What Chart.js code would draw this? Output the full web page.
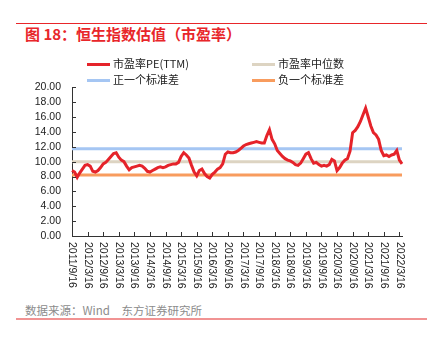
<!DOCTYPE html>
<html>
<head>
<meta charset="utf-8">
<script src="https://cdn.jsdelivr.net/npm/chart.js@4"></script>
<style>
  body { margin: 0; width: 432px; height: 347px; background: #fff; position: relative; overflow: hidden;
         font-family: "Liberation Sans", "Noto Sans CJK SC", sans-serif; }
  .rule { position: absolute; left: 16px; width: 411px; }
  #topRule { top: 23px; height: 1px; background: #e8262a; }
  #bottomRule { top: 318px; height: 2px; background: #f19393; }
  #title { position: absolute; left: 25px; top: 24px; font-size: 15px; font-weight: bold; color: #e8262a;
           font-family: "Noto Sans CJK SC", sans-serif; line-height: 20px; }
  #source { position: absolute; left: 25px; top: 302px; font-size: 11.5px; color: #8c8c8c;
            font-family: "Noto Sans CJK SC", sans-serif; line-height: 16px; }
  .leg { position: absolute; font-size: 11px; color: #222; line-height: 14px; z-index: 2;
         font-family: "Noto Sans CJK SC", sans-serif; }
  .leg i { display: inline-block; width: 23px; height: 3px; vertical-align: middle; margin-right: 3px; margin-top: -2px; }
  #chartBox { position: absolute; left: 0; top: 70px; width: 432px; height: 230px; }
</style>
</head>
<body>
<div id="topRule" class="rule"></div>
<div id="title">图 18：恒生指数估值（市盈率）</div>
<div class="leg" style="left:87px;top:56px"><i style="background:#e5232a"></i>市盈率PE(TTM)</div>
<div class="leg" style="left:252px;top:56px"><i style="background:#ddd4c2"></i>市盈率中位数</div>
<div class="leg" style="left:87px;top:72px"><i style="background:#a5c6f3"></i>正一个标准差</div>
<div class="leg" style="left:252px;top:72px"><i style="background:#f89c5e"></i>负一个标准差</div>
<div id="chartBox"><canvas id="peChart"></canvas></div>
<div id="source">数据来源：Wind　东方证券研究所</div>
<div id="bottomRule" class="rule"></div>
<script>
// monthly points, 2011/9 .. 2022/4
const peValues = [
  8.8, 8.6, 7.9, 8.5, 9.0, 9.5, 9.6, 9.4, 8.7, 8.6, 8.8, 9.2,
  9.7, 9.9, 10.3, 10.7, 11.1, 11.2, 10.6, 10.2, 10.0, 9.4, 8.9, 9.2,
  9.3, 9.4, 9.5, 9.4, 9.1, 8.7, 8.6, 8.8, 9.0, 9.2, 9.3, 9.2,
  9.3, 9.5, 9.6, 9.7, 9.7, 9.9, 10.7, 11.2, 10.9, 10.5, 9.5, 8.6,
  8.1, 8.8, 9.0, 8.4, 8.0, 7.8, 8.3, 8.6, 9.0, 9.2, 9.7, 11.0,
  11.3, 11.2, 11.2, 11.3, 11.5, 11.8, 12.1, 12.3, 12.4, 12.5, 12.6, 12.7,
  12.6, 12.5, 12.5, 13.5, 14.3, 13.0, 12.4, 11.5, 11.1, 10.7, 10.4, 10.2,
  10.1, 9.9, 9.6, 9.5, 9.8, 10.4, 11.0, 11.2, 10.4, 9.8, 9.9, 9.6,
  9.4, 9.5, 9.4, 9.6, 10.3, 10.1, 8.8, 9.2, 9.8, 10.2, 10.4, 11.4,
  13.9, 14.2, 14.7, 15.4, 16.3, 17.2, 16.0, 14.8, 13.9, 13.6, 13.0, 11.5,
  10.8, 10.9, 10.7, 10.9, 11.0, 11.5, 10.2, 9.7
];
const peMedian = 10.0;
const plusOneStd = 11.75;
const minusOneStd = 8.2;

const tickLabels = ['2011/9/16', '2012/3/16', '2012/9/16', '2013/3/16', '2013/9/16', '2014/3/16',
  '2014/9/16', '2015/3/16', '2015/9/16', '2016/3/16', '2016/9/16', '2017/3/16', '2017/9/16',
  '2018/3/16', '2018/9/16', '2019/3/16', '2019/9/16', '2020/3/16', '2020/9/16', '2021/3/16',
  '2021/9/16', '2022/3/16'];

const categories = [];
for (let i = 0; i < peValues.length; i++) {
  const m = 8 + i; // 2011/9 -> index 0
  const year = 2011 + Math.floor(m / 12);
  categories.push(year + '/' + (m % 12 + 1) + '/16');
}

const tickFont = '10.5px "Liberation Sans", Arial, sans-serif';

// x labels read top-to-bottom and tick marks point inward, so draw them here
const axisExtras = {
  id: 'axisExtras',
  afterDraw(chart) {
    const ctx = chart.ctx;
    const xs = chart.scales.x;
    const ys = chart.scales.y;
    const area = chart.chartArea;
    ctx.save();
    ctx.strokeStyle = '#333';
    ctx.lineWidth = 1;
    ctx.beginPath();
    for (let i = 6; i < categories.length; i += 6) {
      const x = Math.round(xs.getPixelForValue(i)) + 0.5;
      ctx.moveTo(x, area.bottom);
      ctx.lineTo(x, area.bottom - 4);
    }
    for (let v = 2; v <= 20; v += 2) {
      const y = Math.round(ys.getPixelForValue(v)) + 0.5;
      ctx.moveTo(area.left, y);
      ctx.lineTo(area.left + 4, y);
    }
    ctx.stroke();

    ctx.fillStyle = '#222';
    ctx.font = tickFont;
    ctx.textAlign = 'left';
    ctx.textBaseline = 'middle';
    tickLabels.forEach((lab, k) => {
      const x = xs.getPixelForValue(k * 6);
      ctx.save();
      ctx.translate(x, area.bottom + 6);
      ctx.rotate(Math.PI / 2);
      ctx.fillText(lab, 0, 0);
      ctx.restore();
    });
    ctx.restore();
  }
};

const flat = (v) => categories.map(() => v);

new Chart(document.getElementById('peChart').getContext('2d'), {
  type: 'line',
  data: {
    labels: categories,
    datasets: [
      { label: '市盈率PE(TTM)', data: peValues, borderColor: '#e5232a', borderWidth: 3 },
      { label: '市盈率中位数', data: flat(peMedian), borderColor: '#ddd4c2', borderWidth: 3 },
      { label: '正一个标准差', data: flat(plusOneStd), borderColor: '#a5c6f3', borderWidth: 3 },
      { label: '负一个标准差', data: flat(minusOneStd), borderColor: '#f89c5e', borderWidth: 3 }
    ]
  },
  options: {
    responsive: true,
    maintainAspectRatio: false,
    animation: false,
    elements: { point: { radius: 0 }, line: { tension: 0 } },
    layout: { padding: { top: 16, right: 30, left: 0, bottom: 0 } },
    plugins: { legend: { display: false }, tooltip: { enabled: false } },
    scales: {
      x: {
        type: 'category',
        grid: { display: false, drawTicks: false },
        border: { display: true, color: '#333', width: 1 },
        ticks: { display: false },
        afterFit: (scale) => { scale.height = 64; }
      },
      y: {
        min: 0,
        max: 20,
        grid: { display: false, drawTicks: false },
        border: { display: true, color: '#333', width: 1 },
        ticks: {
          stepSize: 2,
          autoSkip: false,
          padding: 11,
          color: '#222',
          font: { family: '"Liberation Sans", Arial, sans-serif', size: 10.5 },
          callback: (v) => Number(v).toFixed(2)
        },
        afterFit: (scale) => { scale.width = 72; }
      }
    }
  },
  plugins: [axisExtras]
});
</script>
</body>
</html>
